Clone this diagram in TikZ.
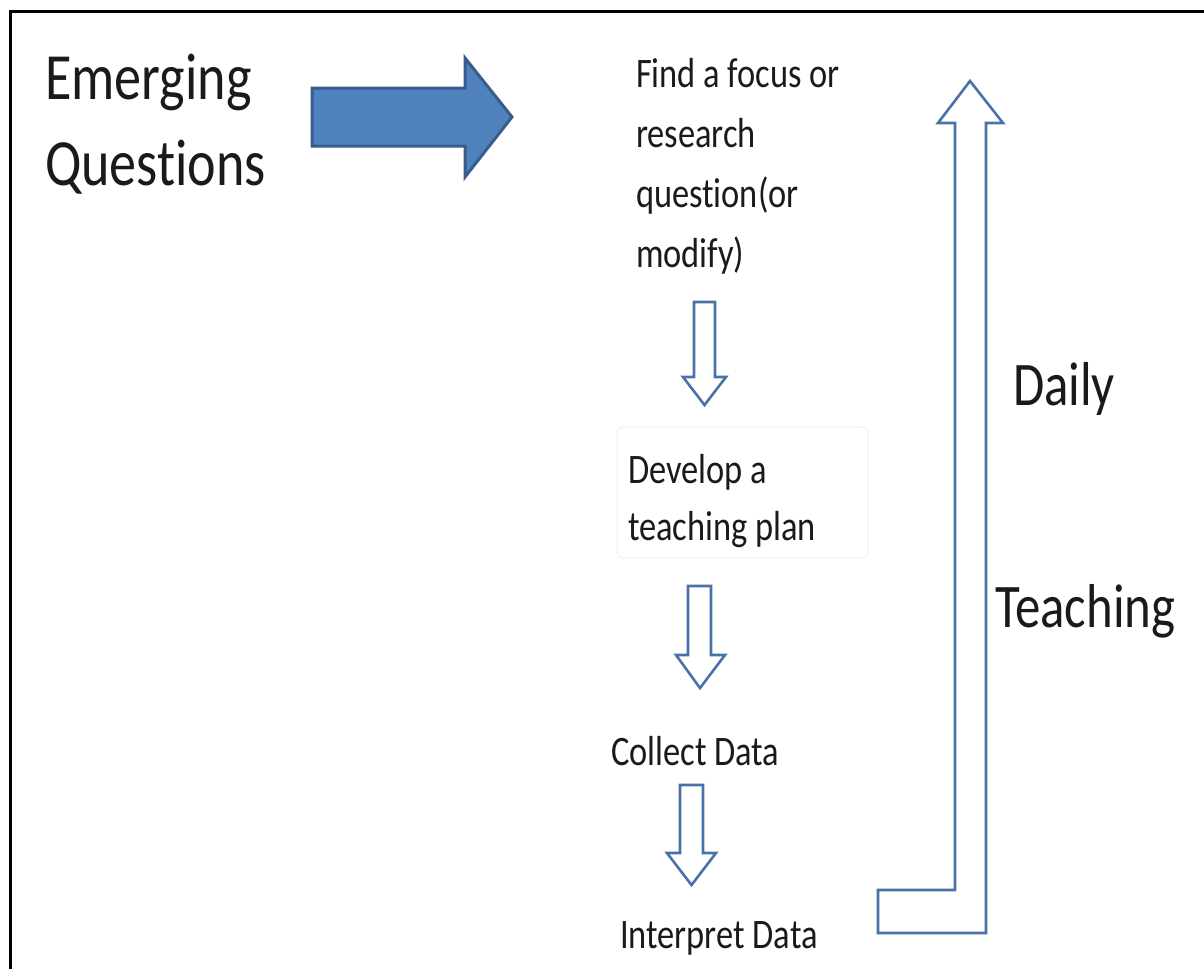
\documentclass[tikz,border=0pt]{standalone}
\usepackage{fontspec}
\setmainfont{Carlito}[FakeStretch=0.82, Ligatures=NoCommon]
\definecolor{arrowfill}{HTML}{4F81BD}
\definecolor{arrowline}{HTML}{385D8A}
\definecolor{hollowline}{HTML}{4A72A8}
\definecolor{textcol}{HTML}{1A1A1A}
\definecolor{boxline}{HTML}{EFEFEF}
\tikzset{
  frame/.style={line width=3pt, black},
  bigarrow/.style={fill=arrowfill, draw=arrowline, line width=3pt, line join=miter},
  hollow/.style={draw=hollowline, line width=2.6pt, fill=white, line join=miter},
  lbl/.style={anchor=base west, inner sep=0pt, outer sep=0pt, text=textcol, align=left},
  bigtxt/.style={lbl, font=\fontsize{66}{86}\selectfont},
  midtxt/.style={lbl, font=\fontsize{42}{60}\selectfont},
  sidetxt/.style={lbl, font=\fontsize{62}{70}\selectfont},
}
\begin{document}
\begin{tikzpicture}[x=1pt, y=-1pt]
\useasboundingbox (0,0) rectangle (1204,969);
% frame
\draw[frame] (10,969) -- (10,11) -- (1204,11);
% big filled arrow
\draw[bigarrow] (312,88) -- (465,88) -- (465,58) -- (512,117) -- (465,177) -- (465,146) -- (312,146) -- cycle;
% up / L-shaped hollow arrow
\draw[hollow] (878,890) -- (955,890) -- (955,123) -- (938,123) -- (970,81) -- (1003,123) -- (986,123) -- (986,933) -- (878,933) -- cycle;
% down hollow arrows
\draw[hollow] (694,302) -- (715,302) -- (715,377) -- (726,377) -- (704.5,405) -- (683,377) -- (694,377) -- cycle;
\draw[hollow] (688,586) -- (711,586) -- (711,655) -- (725,655) -- (700,688) -- (676,655) -- (688,655) -- cycle;
\draw[hollow] (680,785) -- (703,785) -- (703,853) -- (716,853) -- (691.5,885) -- (667,853) -- (680,853) -- cycle;
% develop box
\draw[boxline, line width=1pt, rounded corners=5pt] (617,427) rectangle (868,558);
% texts (base anchor = baseline of last line)
\node[bigtxt] (emerging) at (45,185) {Emerging\\Questions};
\node[midtxt] (focus) at (636,267) {Find a focus or\\research\\question(or\\modify)};
\node[midtxt, font=\fontsize{42}{57}\selectfont] (plan) at (628,540) {Develop a\\teaching plan};
\node[midtxt] (collect) at (611,765) {Collect Data};
\node[midtxt] (interpret) at (620,948) {Interpret Data};
\node[sidetxt] (daily) at (1013,405) {Daily};
\node[sidetxt] (teaching) at (995,627) {Teaching};
\end{tikzpicture}
\end{document}
